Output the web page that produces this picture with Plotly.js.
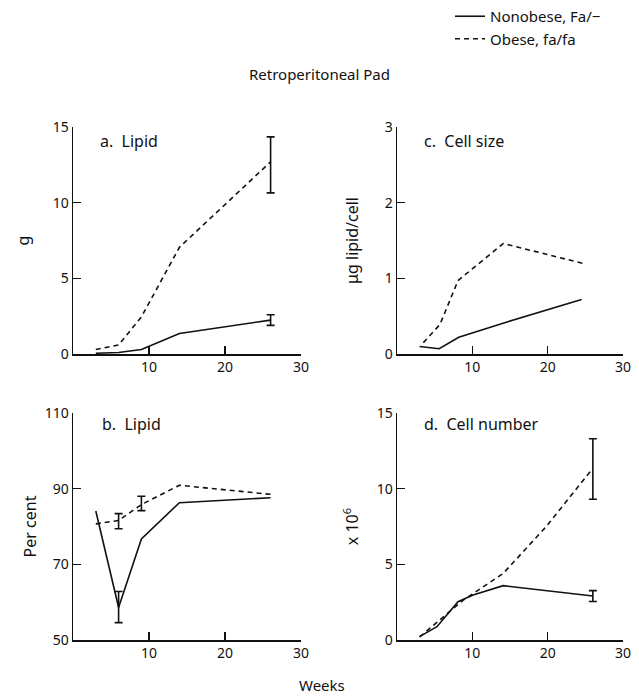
<!DOCTYPE html>
<html>
<head>
<meta charset="utf-8">
<script src="https://cdn.plot.ly/plotly-3.0.1.min.js"></script>
<style>html,body{margin:0;padding:0;background:#fff;}</style>
</head>
<body>
<div id="chart" style="width:639px;height:697px;"></div>
<script>
// ---- Data ----
// a. Lipid (g)
const aWeeksLean = [3, 6, 9, 14, 26];
const aLipidLean = [0.05, 0.1, 0.3, 1.36, 2.24];
const aWeeksObese = [3, 6, 9, 14, 26];
const aLipidObese = [0.3, 0.6, 2.45, 7.05, 12.7];
const aErrWeeks = [26, 26];
const aErrValues = [2.24, 12.5];
const aErrSizes = [0.35, 1.85];

// b. Lipid (per cent)
const bWeeksLean = [3, 6, 9, 14, 26];
const bPctLean = [84.1, 58.6, 76.7, 86.3, 87.6];
const bWeeksObese = [3, 6, 9, 14, 26];
const bPctObese = [80.7, 81.6, 85.8, 90.9, 88.5];
const bErrWeeks = [6, 6, 9];
const bErrValues = [58.7, 81.4, 86.1];
const bErrSizes = [4.1, 2.0, 1.9];

// c. Cell size (ug lipid/cell)
const cWeeksLean = [3, 5.6, 8.2, 14.5, 24.5];
const cSizeLean = [0.1, 0.07, 0.22, 0.42, 0.72];
const cWeeksObese = [3.5, 5.7, 8.1, 14.1, 25];
const cSizeObese = [0.15, 0.39, 0.97, 1.46, 1.19];

// d. Cell number (x10^6)
const dWeeksLean = [3, 5.3, 8.1, 10.1, 14.1, 26];
const dNumLean = [0.22, 0.88, 2.53, 2.97, 3.59, 2.91];
const dWeeksObese = [3, 5.7, 8.8, 14.1, 19.8, 26];
const dNumObese = [0.2, 1.32, 2.64, 4.4, 7.49, 11.35];
const dErrWeeks = [26, 26];
const dErrValues = [2.9, 11.3];
const dErrSizes = [0.36, 2.0];

const xTicks = [10, 20, 30];
const aTicks = [0, 5, 10, 15];
const bTicks = [50, 70, 90, 110];
const cTicks = [0, 1, 2, 3];
const dTicks = [0, 5, 10, 15];

const leanName = 'Nonobese, Fa/\u2212';
const obeseName = 'Obese, fa/fa';

// ---- Styling ----
const FONT = 'Noto Sans, DejaVu Sans, sans-serif';
const solid = {color: '#111', width: 1.6, dash: 'solid'};
const dashed = {color: '#111', width: 1.6, dash: '5px,4px'};

function line(x, y, style, xa, ya, name, show) {
  return {x: x, y: y, type: 'scatter', mode: 'lines', line: style,
    xaxis: xa, yaxis: ya, name: name, showlegend: !!show,
    legendgroup: name, hoverinfo: 'skip'};
}
function errs(x, y, e, xa, ya) {
  return {x: x, y: y, type: 'scatter', mode: 'markers',
    marker: {size: 1, color: 'rgba(0,0,0,0)'},
    error_y: {type: 'data', array: e, visible: true, color: '#111', thickness: 1.6, width: 4},
    xaxis: xa, yaxis: ya, showlegend: false, hoverinfo: 'skip'};
}

const traces = [
  line(aWeeksLean, aLipidLean, solid, 'x', 'y', leanName, true),
  line(aWeeksObese, aLipidObese, dashed, 'x', 'y', obeseName, true),
  errs(aErrWeeks, aErrValues, aErrSizes, 'x', 'y'),
  line(cWeeksLean, cSizeLean, solid, 'x2', 'y2', leanName),
  line(cWeeksObese, cSizeObese, dashed, 'x2', 'y2', obeseName),
  line(bWeeksLean, bPctLean, solid, 'x3', 'y3', leanName),
  line(bWeeksObese, bPctObese, dashed, 'x3', 'y3', obeseName),
  errs(bErrWeeks, bErrValues, bErrSizes, 'x3', 'y3'),
  line(dWeeksLean, dNumLean, solid, 'x4', 'y4', leanName),
  line(dWeeksObese, dNumObese, dashed, 'x4', 'y4', obeseName),
  errs(dErrWeeks, dErrValues, dErrSizes, 'x4', 'y4')
];

const W = 639, H = 697;
const leftDom = [73 / W, 301 / W];
const rightDom = [397 / W, 623 / W];
const topDom = [1 - 354 / H, 1 - 127 / H];
const botDom = [1 - 640 / H, 1 - 413 / H];

function xax(dom, anchor) {
  return {domain: dom, anchor: anchor, range: [0, 30], tickvals: xTicks,
    ticks: 'inside', ticklen: 8, tickwidth: 1.5, tickcolor: '#111',
    showline: true, linewidth: 1.5, linecolor: '#111', showgrid: false, zeroline: false,
    tickfont: {family: FONT, size: 14, color: '#111'}, fixedrange: true};
}
function yax(dom, anchor, range, ticks, title, standoff) {
  return {domain: dom, anchor: anchor, range: range, tickvals: ticks,
    ticks: 'inside', ticklen: 8, tickwidth: 1.5, tickcolor: '#111',
    showline: true, linewidth: 1.5, linecolor: '#111', showgrid: false, zeroline: false,
    tickfont: {family: FONT, size: 14, color: '#111'}, fixedrange: true,
    title: {text: title, font: {family: FONT, size: 16, color: '#111'}, standoff: standoff}};
}

const panelFont = {family: FONT, size: 16, color: '#111'};
const layout = {
  width: W, height: H,
  margin: {l: 0, r: 0, t: 0, b: 0},
  paper_bgcolor: '#fff', plot_bgcolor: '#fff',
  font: {family: FONT, color: '#111'},
  title: {text: 'Retroperitoneal Pad', x: 0.5, xanchor: 'center', y: 1 - 75 / H, yanchor: 'middle',
    font: {family: FONT, size: 15, color: '#111'}},
  showlegend: true,
  legend: {x: 450 / W, xanchor: 'left', y: 1, yanchor: 'top',
    font: {family: FONT, size: 15, color: '#111'}, bgcolor: 'rgba(0,0,0,0)',
    tracegroupgap: 12, traceorder: 'normal'},
  xaxis: xax(leftDom, 'y'),
  yaxis: yax(topDom, 'x', [0, 15], aTicks, 'g', 19),
  xaxis2: xax(rightDom, 'y2'),
  yaxis2: yax(topDom, 'x2', [0, 3], cTicks, '\u03bcg lipid/cell', 22),
  xaxis3: xax(leftDom, 'y3'),
  yaxis3: yax(botDom, 'x3', [50, 110], bTicks, 'Per cent', 4),
  xaxis4: xax(rightDom, 'y4'),
  yaxis4: yax(botDom, 'x4', [0, 15], dTicks, 'x 10<sup>6</sup>', 14),
  annotations: [
    {text: 'a.  Lipid', xref: 'x domain', yref: 'y domain', x: 0.11, y: 0.94, xanchor: 'left', yanchor: 'middle', showarrow: false, font: panelFont},
    {text: 'c.  Cell size', xref: 'x2 domain', yref: 'y2 domain', x: 0.11, y: 0.94, xanchor: 'left', yanchor: 'middle', showarrow: false, font: panelFont},
    {text: 'b.  Lipid', xref: 'x3 domain', yref: 'y3 domain', x: 0.12, y: 0.95, xanchor: 'left', yanchor: 'middle', showarrow: false, font: panelFont},
    {text: 'd.  Cell number', xref: 'x4 domain', yref: 'y4 domain', x: 0.11, y: 0.95, xanchor: 'left', yanchor: 'middle', showarrow: false, font: panelFont},
    {text: 'Weeks', xref: 'paper', yref: 'paper', x: 322 / W, y: 0, xanchor: 'center', yanchor: 'bottom', showarrow: false, font: {family: FONT, size: 15, color: '#111'}}
  ]
};

Plotly.newPlot('chart', traces, layout, {displayModeBar: false, staticPlot: true});
</script>
</body>
</html>
